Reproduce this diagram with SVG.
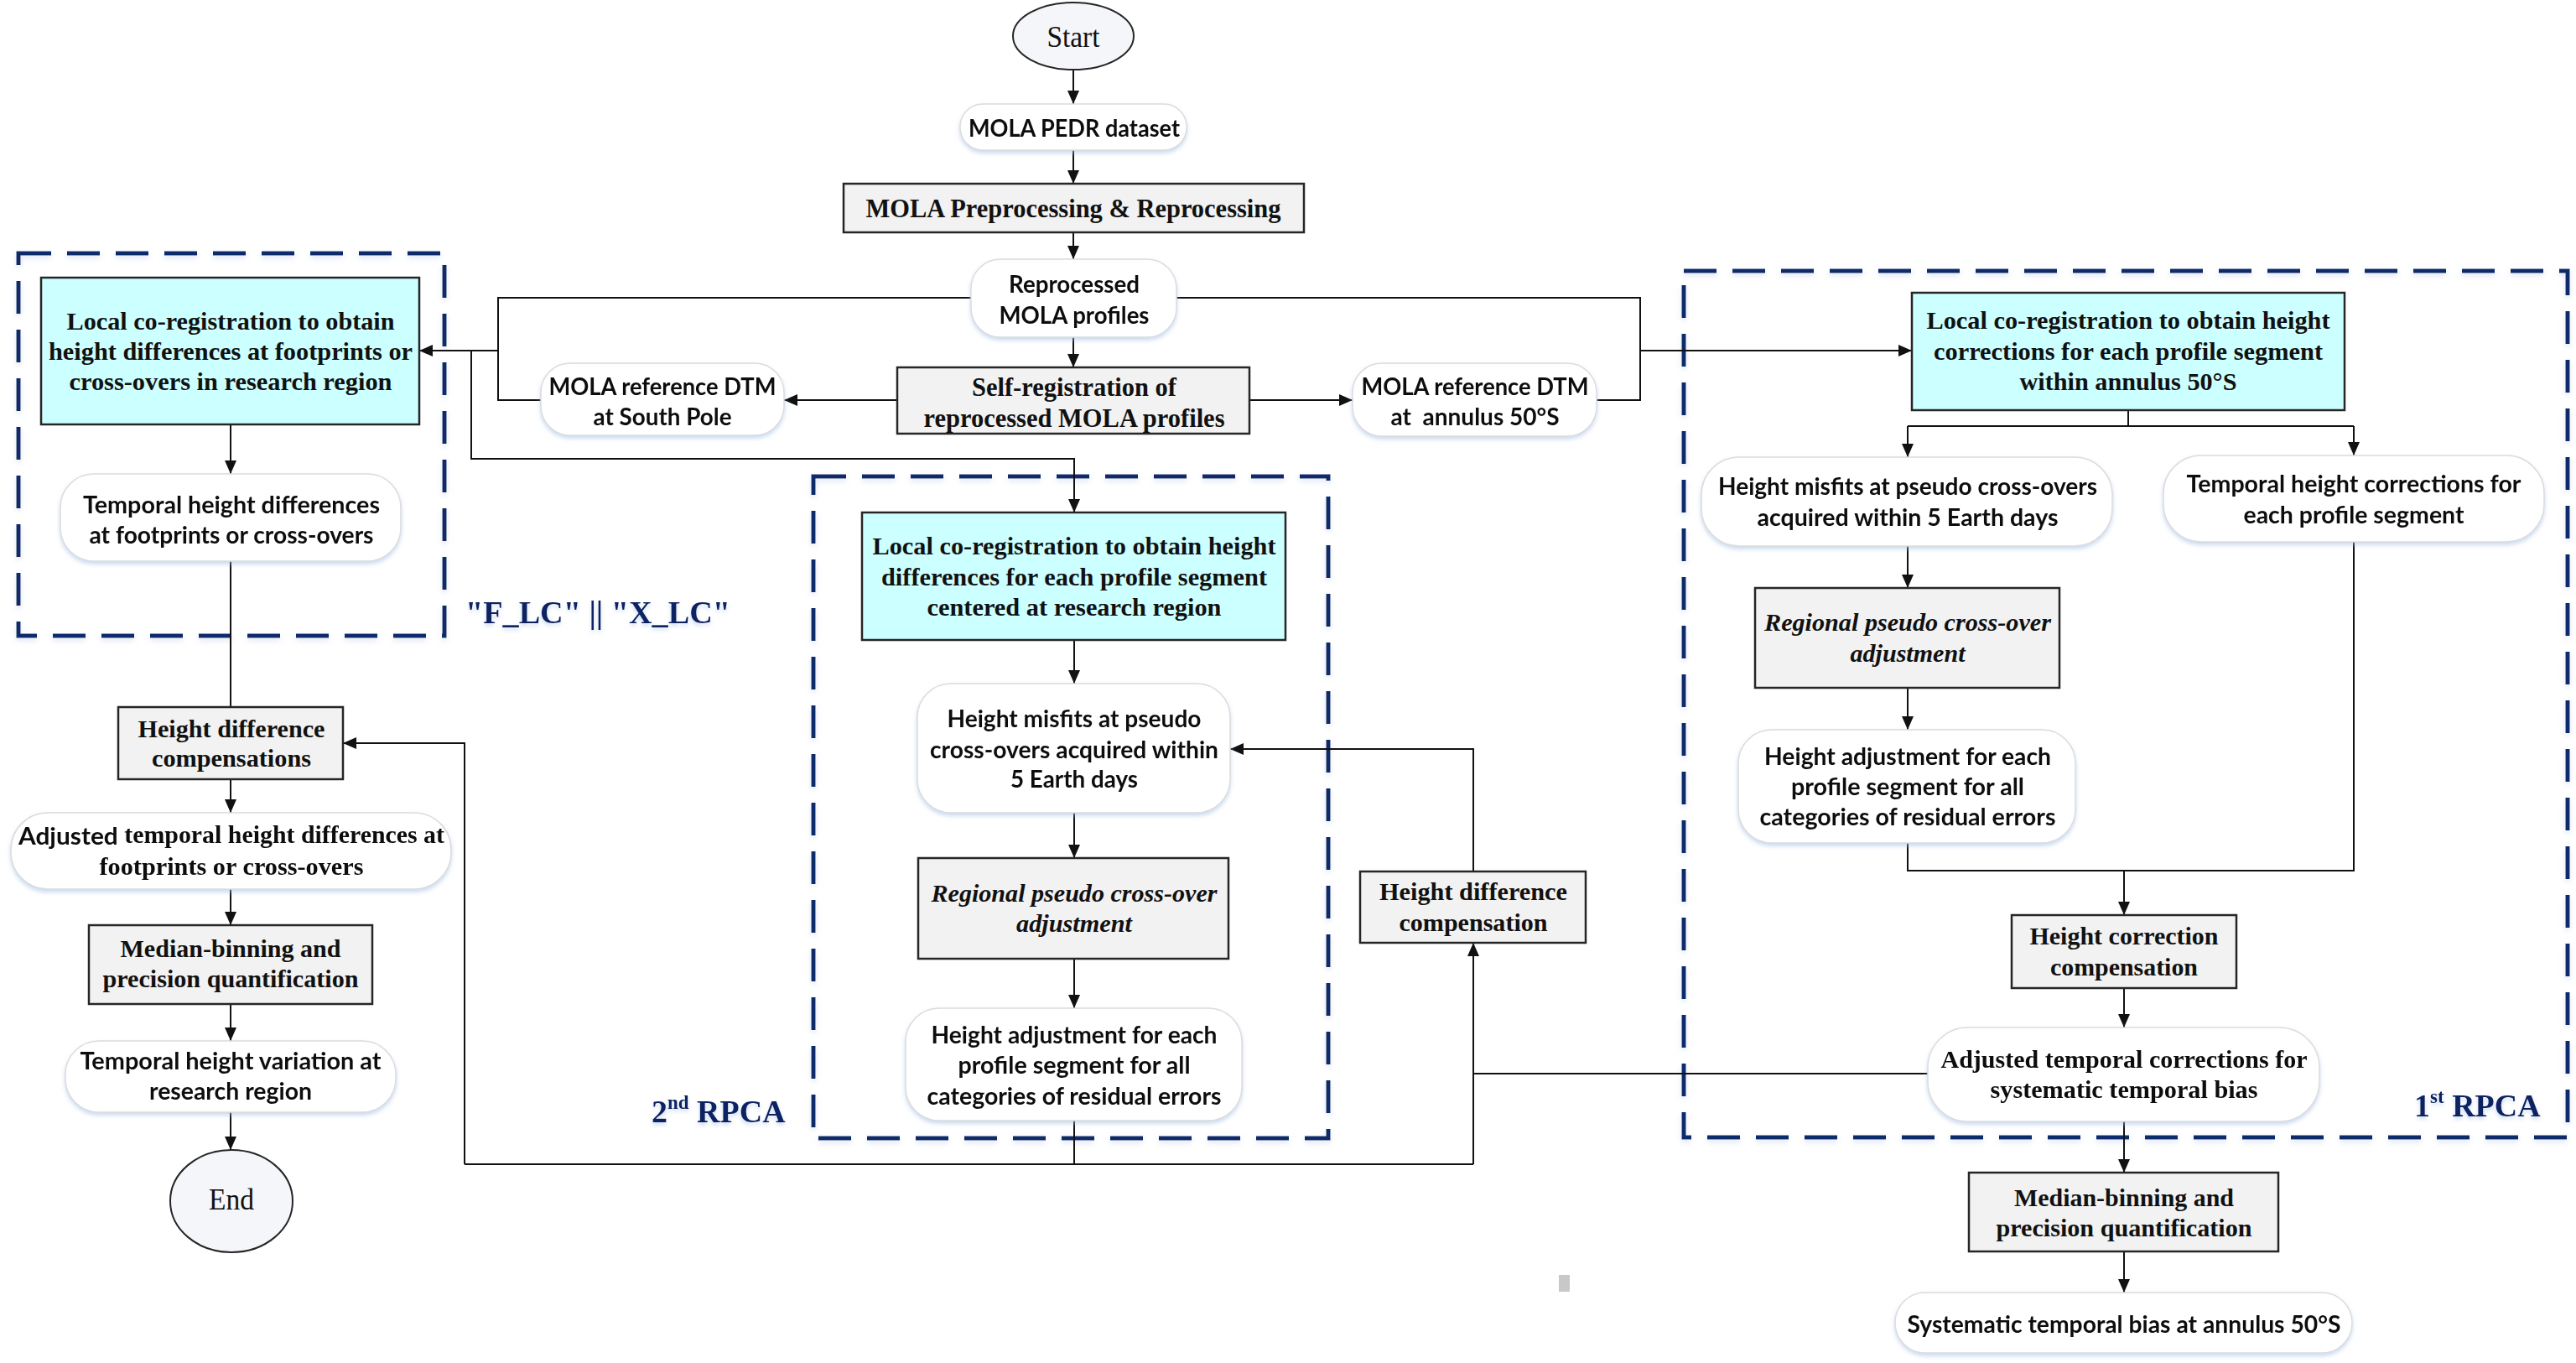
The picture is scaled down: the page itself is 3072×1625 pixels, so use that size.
<svg xmlns="http://www.w3.org/2000/svg" width="3072" height="1625" viewBox="0 0 3072 1625">
<defs>
<style>
.s{font-family:Lato,"Open Sans","Noto Sans",sans-serif;font-weight:700;font-size:28px;fill:#111;text-anchor:middle;dominant-baseline:central}
.r{font-family:"Liberation Serif","Times New Roman",serif;font-weight:700;font-size:29px;fill:#111;text-anchor:middle;dominant-baseline:central}
.ri{font-family:"Liberation Serif","Times New Roman",serif;font-weight:700;font-style:italic;font-size:29px;fill:#111;text-anchor:middle;dominant-baseline:central}
.t{font-family:"Liberation Serif","Times New Roman",serif;font-size:36px;fill:#111;text-anchor:middle;dominant-baseline:central}
.lbl{font-family:"Liberation Serif","Times New Roman",serif;font-weight:700;font-size:38px;fill:#0b2462}
.rb{fill:#fff;stroke:#dcdcdc;stroke-width:1.5}
.gb{fill:#f2f2f2;stroke:#262626;stroke-width:2.5}
.cb{fill:#ccffff;stroke:#262626;stroke-width:2.5}
.el{fill:#f4f6fa;stroke:#262626;stroke-width:2}
.dash{fill:none;stroke:#0d2a6b;stroke-width:5;stroke-dasharray:39 19}
.ln{fill:none;stroke:#111;stroke-width:2}
.ar{fill:none;stroke:#111;stroke-width:2;marker-end:url(#ah)}
</style>
<marker id="ah" markerUnits="userSpaceOnUse" markerWidth="16" markerHeight="14" refX="16" refY="7" orient="auto">
<path d="M0,0 L16,7 L0,14 z" fill="#111"/>
</marker>
<filter id="sh" x="-10%" y="-10%" width="120%" height="130%">
<feDropShadow dx="0" dy="3" stdDeviation="3" flood-color="#b8c8e8" flood-opacity="0.5"/>
</filter>
<filter id="tg" x="-5%" y="-20%" width="110%" height="150%">
<feDropShadow dx="0" dy="3" stdDeviation="2.5" flood-color="#9fbbe8" flood-opacity="0.55"/>
</filter>
</defs>
<rect width="3072" height="1625" fill="#fff"/>

<!-- dashed group frames -->
<g id="frames">
<rect class="dash" x="22" y="302" width="508" height="456" filter="url(#sh)"/>
<rect class="dash" x="970" y="568" width="614" height="789" filter="url(#sh)"/>
<rect class="dash" x="2008" y="323" width="1054" height="1033" filter="url(#sh)"/>
</g>

<!-- connectors -->
<g id="connectors">
<path class="ar" d="M1280,83 V124"/>
<path class="ar" d="M1280,179 V219"/>
<path class="ar" d="M1280,277 V309"/>
<path class="ar" d="M1280,402 V438"/>
<path class="ar" d="M1070,477 H935"/>
<path class="ar" d="M1490,477 H1613"/>
<path class="ln" d="M1158,355 H594 V477 H645"/>
<path class="ar" d="M594,418 H500"/>
<path class="ar" d="M562,418 V547 H1281 V611"/>
<path class="ln" d="M1403,355 H1956 V477 H1904"/>
<path class="ar" d="M1956,418 H2280"/>
<path class="ar" d="M275,506 V565"/>
<path class="ln" d="M275,669 V843"/>
<path class="ar" d="M275,929 V969"/>
<path class="ar" d="M275,1060 V1103"/>
<path class="ar" d="M275,1197 V1241"/>
<path class="ar" d="M275,1326 V1371"/>
<path class="ar" d="M1281,763 V815"/>
<path class="ar" d="M1281,969 V1023"/>
<path class="ar" d="M1281,1143 V1202"/>
<path class="ln" d="M1281,1336 V1388"/>
<path class="ln" d="M554,1388 H1757"/>
<path class="ar" d="M554,1388 V886 H409"/>
<path class="ar" d="M1757,1388 V1124"/>
<path class="ln" d="M2299,1280 H1757"/>
<path class="ar" d="M1757,1039 V893 H1467"/>
<path class="ln" d="M2538,489 V508"/>
<path class="ln" d="M2275,508 H2807"/>
<path class="ar" d="M2275,508 V545"/>
<path class="ar" d="M2807,508 V543"/>
<path class="ar" d="M2275,651 V701"/>
<path class="ar" d="M2275,820 V870"/>
<path class="ln" d="M2275,1005 V1038 H2807 V646"/>
<path class="ar" d="M2533,1038 V1091"/>
<path class="ar" d="M2533,1178 V1225"/>
<path class="ar" d="M2533,1337 V1398"/>
<path class="ar" d="M2533,1492 V1541"/>
</g>

<!-- nodes -->
<g id="start">
<ellipse class="el" cx="1280" cy="43" rx="72" ry="40"/>
<text class="t" x="1280" y="44" textLength="63" lengthAdjust="spacingAndGlyphs">Start</text>
</g>
<g id="pedr" filter="url(#tg)">
<rect class="rb" x="1145" y="124" width="270" height="55" rx="27"/>
<text class="s" x="1281" y="152" textLength="252" lengthAdjust="spacingAndGlyphs" font-size="30">MOLA PEDR dataset</text>
</g>
<g id="preproc">
<rect class="gb" x="1006" y="219" width="549" height="58"/>
<text class="r" x="1280" y="248" textLength="495" lengthAdjust="spacingAndGlyphs" style="font-size:31px">MOLA Preprocessing &amp; Reprocessing</text>
</g>
<g id="reprocessed" filter="url(#tg)">
<rect class="rb" x="1158" y="309" width="245" height="93" rx="35"/>
<text class="s" x="1281" y="338" textLength="156" lengthAdjust="spacingAndGlyphs">Reprocessed</text>
<text class="s" x="1281" y="375" textLength="179" lengthAdjust="spacingAndGlyphs">MOLA profiles</text>
</g>
<g id="selfreg">
<rect class="gb" x="1070" y="438" width="420" height="79"/>
<text class="r" x="1281" y="461" textLength="244" lengthAdjust="spacingAndGlyphs" style="font-size:31px">Self-registration of</text>
<text class="r" x="1281" y="498" textLength="359" lengthAdjust="spacingAndGlyphs" style="font-size:31px">reprocessed MOLA profiles</text>
</g>
<g id="dtm-southpole" filter="url(#tg)">
<rect class="rb" x="645" y="433" width="290" height="86" rx="35"/>
<text class="s" x="790" y="460" textLength="271" lengthAdjust="spacingAndGlyphs">MOLA reference DTM</text>
<text class="s" x="790" y="496" textLength="165" lengthAdjust="spacingAndGlyphs">at South Pole</text>
</g>
<g id="dtm-annulus" filter="url(#tg)">
<rect class="rb" x="1613" y="433" width="291" height="87" rx="35"/>
<text class="s" x="1759" y="460" textLength="271" lengthAdjust="spacingAndGlyphs">MOLA reference DTM</text>
<text class="s" x="1759" y="496" textLength="201" lengthAdjust="spacingAndGlyphs">at&#160; annulus 50°S</text>
</g>

<!-- left column -->
<g id="left-coreg">
<rect class="cb" x="49" y="331" width="451" height="175"/>
<text class="r" x="275" y="383" textLength="391" lengthAdjust="spacingAndGlyphs">Local co-registration to obtain</text>
<text class="r" x="275" y="419" textLength="434" lengthAdjust="spacingAndGlyphs">height differences at footprints or</text>
<text class="r" x="275" y="455" textLength="385" lengthAdjust="spacingAndGlyphs">cross-overs in research region</text>
</g>
<g id="left-temporal" filter="url(#tg)">
<rect class="rb" x="72" y="565" width="406" height="104" rx="40"/>
<text class="s" x="276" y="601" textLength="354" lengthAdjust="spacingAndGlyphs">Temporal height differences</text>
<text class="s" x="276" y="637" textLength="339" lengthAdjust="spacingAndGlyphs">at footprints or cross-overs</text>
</g>
<g id="left-comp">
<rect class="gb" x="141" y="843" width="268" height="86"/>
<text class="r" x="276" y="869" textLength="223" lengthAdjust="spacingAndGlyphs">Height difference</text>
<text class="r" x="276" y="904" textLength="190" lengthAdjust="spacingAndGlyphs">compensations</text>
</g>
<g id="left-adjusted" filter="url(#tg)">
<rect class="rb" x="13" y="969" width="525" height="91" rx="44"/>
<text class="r" x="276" y="995" textLength="508" lengthAdjust="spacingAndGlyphs"><tspan style="font-family:Lato,'Open Sans',sans-serif">Adjusted</tspan> temporal height differences at</text>
<text class="r" x="276" y="1033" textLength="315" lengthAdjust="spacingAndGlyphs">footprints or cross-overs</text>
</g>
<g id="left-median">
<rect class="gb" x="106" y="1103" width="338" height="94"/>
<text class="r" x="275" y="1131" textLength="263" lengthAdjust="spacingAndGlyphs">Median-binning and</text>
<text class="r" x="275" y="1167" textLength="305" lengthAdjust="spacingAndGlyphs">precision quantification</text>
</g>
<g id="left-variation" filter="url(#tg)">
<rect class="rb" x="78" y="1241" width="394" height="85" rx="40"/>
<text class="s" x="275" y="1264" textLength="359" lengthAdjust="spacingAndGlyphs">Temporal height variation at</text>
<text class="s" x="275" y="1300" textLength="194" lengthAdjust="spacingAndGlyphs">research region</text>
</g>
<g id="end">
<ellipse class="el" cx="276" cy="1432" rx="73" ry="61"/>
<text class="t" x="276" y="1430" textLength="54" lengthAdjust="spacingAndGlyphs">End</text>
</g>

<!-- middle column (2nd RPCA) -->
<g id="mid-coreg">
<rect class="cb" x="1028" y="611" width="505" height="152"/>
<text class="r" x="1281" y="651" textLength="481" lengthAdjust="spacingAndGlyphs">Local co-registration to obtain height</text>
<text class="r" x="1281" y="688" textLength="460" lengthAdjust="spacingAndGlyphs">differences for each profile segment</text>
<text class="r" x="1281" y="724" textLength="351" lengthAdjust="spacingAndGlyphs">centered at research region</text>
</g>
<g id="mid-misfits" filter="url(#tg)">
<rect class="rb" x="1094" y="815" width="373" height="154" rx="40"/>
<text class="s" x="1281" y="856" textLength="303" lengthAdjust="spacingAndGlyphs">Height misfits at pseudo</text>
<text class="s" x="1281" y="893" textLength="344" lengthAdjust="spacingAndGlyphs">cross-overs acquired within</text>
<text class="s" x="1281" y="928" textLength="152" lengthAdjust="spacingAndGlyphs">5 Earth days</text>
</g>
<g id="mid-regional">
<rect class="gb" x="1095" y="1023" width="370" height="120"/>
<text class="ri" x="1281" y="1065" textLength="341" lengthAdjust="spacingAndGlyphs">Regional pseudo cross-over</text>
<text class="ri" x="1281" y="1101" textLength="138" lengthAdjust="spacingAndGlyphs">adjustment</text>
</g>
<g id="mid-heightadj" filter="url(#tg)">
<rect class="rb" x="1080" y="1202" width="401" height="134" rx="40"/>
<text class="s" x="1281" y="1233" textLength="341" lengthAdjust="spacingAndGlyphs">Height adjustment for each</text>
<text class="s" x="1281" y="1269" textLength="277" lengthAdjust="spacingAndGlyphs">profile segment for all</text>
<text class="s" x="1281" y="1306" textLength="351" lengthAdjust="spacingAndGlyphs">categories of residual errors</text>
</g>
<g id="mid-comp">
<rect class="gb" x="1622" y="1039" width="269" height="85"/>
<text class="r" x="1757" y="1063" textLength="224" lengthAdjust="spacingAndGlyphs">Height difference</text>
<text class="r" x="1757" y="1100" textLength="177" lengthAdjust="spacingAndGlyphs">compensation</text>
</g>

<!-- right column (1st RPCA) -->
<g id="right-coreg">
<rect class="cb" x="2280" y="349" width="516" height="140"/>
<text class="r" x="2538" y="382" textLength="481" lengthAdjust="spacingAndGlyphs">Local co-registration to obtain height</text>
<text class="r" x="2538" y="419" textLength="464" lengthAdjust="spacingAndGlyphs">corrections for each profile segment</text>
<text class="r" x="2538" y="455" textLength="259" lengthAdjust="spacingAndGlyphs">within annulus 50°S</text>
</g>
<g id="right-misfits" filter="url(#tg)">
<rect class="rb" x="2029" y="545" width="490" height="106" rx="45"/>
<text class="s" x="2275" y="579" textLength="452" lengthAdjust="spacingAndGlyphs">Height misfits at pseudo cross-overs</text>
<text class="s" x="2275" y="616" textLength="359" lengthAdjust="spacingAndGlyphs">acquired within 5 Earth days</text>
</g>
<g id="right-temporal" filter="url(#tg)">
<rect class="rb" x="2580" y="543" width="454" height="103" rx="45"/>
<text class="s" x="2807" y="576" textLength="399" lengthAdjust="spacingAndGlyphs">Temporal height corrections for</text>
<text class="s" x="2807" y="613" textLength="263" lengthAdjust="spacingAndGlyphs">each profile segment</text>
</g>
<g id="right-regional">
<rect class="gb" x="2093" y="701" width="363" height="119"/>
<text class="ri" x="2275" y="742" textLength="342" lengthAdjust="spacingAndGlyphs">Regional pseudo cross-over</text>
<text class="ri" x="2275" y="779" textLength="137" lengthAdjust="spacingAndGlyphs">adjustment</text>
</g>
<g id="right-heightadj" filter="url(#tg)">
<rect class="rb" x="2073" y="870" width="402" height="135" rx="40"/>
<text class="s" x="2275" y="901" textLength="342" lengthAdjust="spacingAndGlyphs">Height adjustment for each</text>
<text class="s" x="2275" y="937" textLength="278" lengthAdjust="spacingAndGlyphs">profile segment for all</text>
<text class="s" x="2275" y="973" textLength="353" lengthAdjust="spacingAndGlyphs">categories of residual errors</text>
</g>
<g id="right-corrcomp">
<rect class="gb" x="2399" y="1091" width="268" height="87"/>
<text class="r" x="2533" y="1116" textLength="225" lengthAdjust="spacingAndGlyphs">Height correction</text>
<text class="r" x="2533" y="1153" textLength="176" lengthAdjust="spacingAndGlyphs">compensation</text>
</g>
<g id="right-adjusted" filter="url(#tg)">
<rect class="rb" x="2299" y="1225" width="467" height="112" rx="48"/>
<text class="r" x="2533" y="1263" textLength="437" lengthAdjust="spacingAndGlyphs">Adjusted temporal corrections for</text>
<text class="r" x="2533" y="1299" textLength="319" lengthAdjust="spacingAndGlyphs">systematic temporal bias</text>
</g>
<g id="right-median">
<rect class="gb" x="2348" y="1398" width="369" height="94"/>
<text class="r" x="2533" y="1428" textLength="262" lengthAdjust="spacingAndGlyphs">Median-binning and</text>
<text class="r" x="2533" y="1464" textLength="305" lengthAdjust="spacingAndGlyphs">precision quantification</text>
</g>
<g id="right-bias" filter="url(#tg)">
<rect class="rb" x="2260" y="1541" width="545" height="72" rx="36"/>
<text class="s" x="2533" y="1578" textLength="517" lengthAdjust="spacingAndGlyphs">Systematic temporal bias at annulus 50°S</text>
</g>

<!-- labels -->
<g id="labels" filter="url(#tg)">
<text class="lbl" x="555" y="743" textLength="316" lengthAdjust="spacingAndGlyphs">"F_LC" || "X_LC"</text>
<text class="lbl" x="777" y="1338">2<tspan dy="-16" style="font-size:23px">nd</tspan><tspan dy="16"> RPCA</tspan></text>
<text class="lbl" x="2879" y="1331">1<tspan dy="-16" style="font-size:23px">st</tspan><tspan dy="16"> RPCA</tspan></text>
</g>
<rect x="1859" y="1520" width="13" height="20" fill="#c8c8c8"/>
</svg>
